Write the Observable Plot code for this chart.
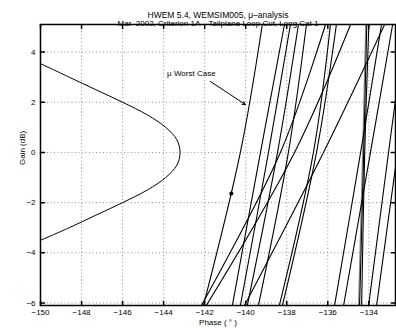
<!DOCTYPE html>
<html><head><meta charset="utf-8">
<script src="https://cdn.jsdelivr.net/npm/d3@7"></script>
<script src="https://cdn.jsdelivr.net/npm/@observablehq/plot@0.6"></script>
<style>body{margin:0;background:#fff} svg{display:block}</style>
</head><body><div id="chart"></div>
<script>
const titleLines = ["HWEM 5.4, WEMSIM005, \u03bc\u2013analysis", "Mar\u20132002, Criterion 1A \u2013 Tailplane Loop Cut, Long Cat 1"];
const xLabel = "Phase ( \u00b0 )";
const yLabel = "Gain (dB)";
const xTicks = [-150, -148, -146, -144, -142, -140, -138, -136, -134];
const yTicks = [-6, -4, -2, 0, 2, 4];

// exclusion boundary
const boundaryGain  = [3.54, 3.0, 2.5, 2.0, 1.5, 1.0, 0.5, 0, -0.5, -1.0, -1.5, -2.0, -2.5, -3.0, -3.5];
const boundaryPhase = [-150, -148.6, -147.3, -146.0, -144.8, -143.9, -143.35, -143.2, -143.35, -143.9, -144.8, -146.0, -147.3, -148.6, -150];

// Nichols traces of the cases: phase at three gains
const caseGains = [-6.1, 0, 5.1];
const caseNames = ["worst","c2","c3","c4","c5","c6","c7","c8","c9","c10","c11","c12","c13","c14","c15","c16","c17"];
const casePhaseLow  = [-142.06, -140.65, -140.26, -139.92, -139.38, -138.36, -138.21, -142.16, -141.92, -140.06, -135.67, -135.23, -134.01, -133.62, -134.45, -134.35, -134.50];
const casePhaseMid  = [-140.26, -139.28, -138.89, -138.45, -137.92, -136.70, -136.55, -138.31, -137.62, -136.21, -134.40, -133.92, -133.04, -132.60, -134.25, -134.20, -134.30];
const casePhaseHigh = [-139.19, -138.11, -137.82, -137.43, -137.04, -135.87, -135.58, -136.11, -134.89, -133.23, -133.38, -132.84, -132.21, -131.72, -134.10, -134.00, -134.15];
const grayCases = ["c17"];

const worstPoint = {phase: -140.7, gain: -1.64};
const noteText = "\u03bc Worst Case";
const notePos = {phase: -143.83, gain: 3.15};
const arrowFrom = {phase: -141.72, gain: 2.83};
const arrowTo = {phase: -140.02, gain: 1.91};

const traces = [];
caseNames.forEach((name, i) => {
  [casePhaseLow[i], casePhaseMid[i], casePhaseHigh[i]].forEach((p, j) => {
    traces.push({name, phase: p, gain: caseGains[j], gray: grayCases.includes(name)});
  });
});
const boundary = boundaryGain.map((g, i) => ({gain: g, phase: boundaryPhase[i]}));

const tickShape = {draw(ctx, l) { ctx.moveTo(0, 0); ctx.lineTo(0, -l); }};
const font = "'Liberation Sans', Arial, Helvetica, sans-serif";

const chart = Plot.plot({
  width: 396, height: 328,
  marginTop: 24, marginBottom: 23, marginLeft: 40, marginRight: 1,
  style: {fontFamily: font, fontSize: "8px", background: "#fff"},
  x: {domain: [-150, -132.7], label: null},
  y: {domain: [-6.1, 5.1], label: null},
  marks: [
    Plot.ruleX(xTicks, {x: d => d, stroke: "#777", strokeWidth: 0.8, strokeDasharray: "1,2.5"}),
    Plot.ruleY(yTicks, {y: d => d, stroke: "#777", strokeWidth: 0.8, strokeDasharray: "1,2.5"}),
    Plot.line(boundary, {x: "phase", y: "gain", curve: "catmull-rom", stroke: "black", strokeWidth: 1, clip: true}),
    Plot.line(traces.filter(d => d.gray), {x: "phase", y: "gain", z: "name", curve: "catmull-rom", stroke: "#888", strokeWidth: 1.2, clip: true}),
    Plot.line(traces.filter(d => !d.gray), {x: "phase", y: "gain", z: "name", curve: "catmull-rom", stroke: "black", strokeWidth: 1.1, clip: true}),
    Plot.dot([worstPoint], {x: "phase", y: "gain", r: 2, fill: "black"}),
    Plot.arrow([{a: arrowFrom, b: arrowTo}], {x1: d => d.a.phase, y1: d => d.a.gain, x2: d => d.b.phase, y2: d => d.b.gain, stroke: "black", strokeWidth: 1, headLength: 5}),
    Plot.text([noteText], {x: notePos.phase, y: notePos.gain, textAnchor: "start", fontSize: 8, fill: "black"}),
    Plot.vector(xTicks, {x: d => d, frameAnchor: "bottom", length: 4, rotate: 0, anchor: "start", shape: tickShape, stroke: "black"}),
    Plot.vector(xTicks, {x: d => d, frameAnchor: "top", length: 4, rotate: 180, anchor: "start", shape: tickShape, stroke: "black"}),
    Plot.vector(yTicks, {y: d => d, frameAnchor: "left", length: 4, rotate: 90, anchor: "start", shape: tickShape, stroke: "black"}),
    Plot.vector(yTicks, {y: d => d, frameAnchor: "right", length: 4, rotate: -90, anchor: "start", shape: tickShape, stroke: "black"}),
    Plot.axisX(xTicks, {tickSize: 0, tickPadding: 4, fontSize: 8, fill: "black", label: null}),
    Plot.axisY(yTicks, {tickSize: 0, tickPadding: 5, fontSize: 8, fill: "black", label: null}),
    Plot.frame({stroke: "black", strokeWidth: 1.5}),
    Plot.text([titleLines[0]], {frameAnchor: "top", dy: -13, fontSize: 8.5, letterSpacing: "0.6px", fill: "black"}),
    Plot.text([titleLines[1]], {frameAnchor: "top", dy: -4, fontSize: 8, fill: "black"}),
    Plot.text([yLabel], {frameAnchor: "left", dx: -18, rotate: -90, fontSize: 8, fill: "black"}),
    Plot.text([xLabel], {frameAnchor: "bottom", dy: 19, fontSize: 8, fill: "black"})
  ]
});
document.getElementById("chart").appendChild(chart);
</script>
</body></html>
